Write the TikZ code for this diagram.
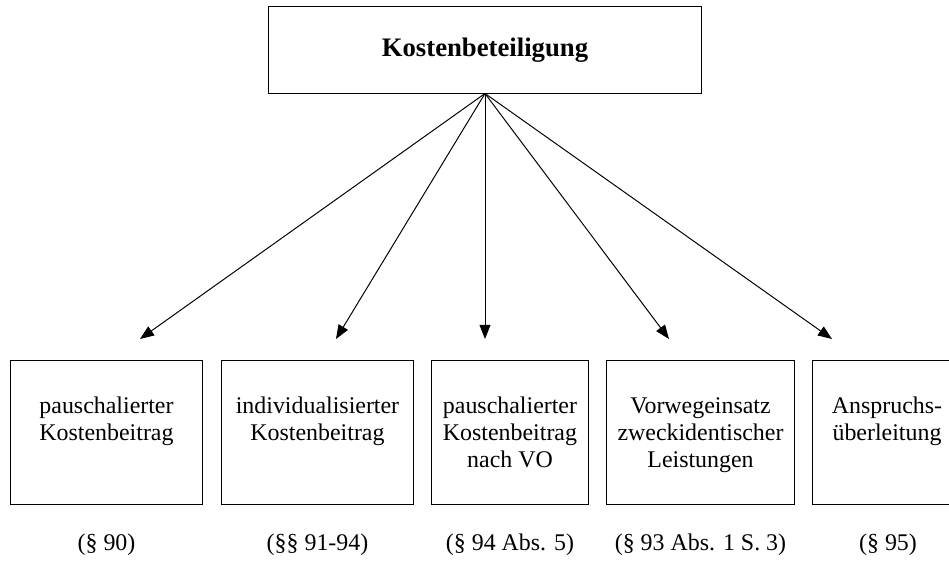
\documentclass[tikz,border=0pt]{standalone}
\usepackage{fontspec}
\setmainfont{Liberation Serif}
\usetikzlibrary{arrows.meta}
\definecolor{black}{RGB}{0,0,0}
\definecolor{white}{RGB}{255,255,255}

\begin{document}
\begin{tikzpicture}[x=0.025cm,y=-0.025cm,
	box/.style={rectangle,draw=black,fill=white,line width=0.7pt,minimum height=3.575cm,inner sep=0pt},
	boxtext/.style={anchor=north,align=center,inner sep=0pt,font=\fontsize{17}{19.2}\selectfont},
	para/.style={font=\fontsize{17}{19.2}\selectfont},
	arrow/.style={draw=black,line width=0.7pt,-{Triangle[length=3.5mm,width=2.7mm]}}]
	\useasboundingbox (0,0) rectangle (949,564);
	\clip (0,0) rectangle (949,564);
	\node[rectangle,draw=black,line width=0.7pt,minimum width=10.8cm,minimum height=2.15cm,font=\fontsize{19}{22}\selectfont\bfseries] (kb) at (485,50) {Kostenbeteiligung};
	
	\node[box,minimum width=4.775cm] (b1) at (106.5,432.5) {};
	\node[box,minimum width=4.775cm] (b2) at (317.5,432.5) {};
	\node[box,minimum width=3.9cm] (b3) at (510,432.5) {};
	\node[box,minimum width=4.675cm] (b4) at (700.5,432.5) {};
	\node[box,minimum width=4.775cm] (b5) at (908.5,432.5) {};
	
	\node[boxtext] (t1) at (106.5,397) {pauschalierter\\Kostenbeitrag};
	\node[boxtext] (t2) at (317.5,397) {individualisierter\\Kostenbeitrag};
	\node[boxtext] (t3) at (510,397) {pauschalierter\\Kostenbeitrag\\nach VO};
	\node[boxtext] (t4) at (700.5,397) {Vorwegeinsatz\\zweckidentischer\\Leistungen};
	\node[boxtext] (t5) at (887,397) {Anspruchs-\\überleitung};
	
	\node[para] (p1) at (106.5,545) {(§ 90)};
	\node[para] (p2) at (317.5,545) {(§§ 91-94)};
	\node[para] (p3) at (510,545) {(§ 94 Abs. 5)};
	\node[para] (p4) at (700.5,545) {(§ 93 Abs. 1 S. 3)};
	\node[para] (p5) at (888,545) {(§ 95)};
	
	\coordinate (e1) at (140,339);
	\coordinate (e2) at (336,339);
	\coordinate (e3) at (485,339);
	\coordinate (e4) at (669,339);
	\coordinate (e5) at (832,339);
	
	\foreach \x in {e1,e2,e3,e4,e5}
		\draw[arrow] (kb.south) -- (\x);
\end{tikzpicture}
\end{document}
